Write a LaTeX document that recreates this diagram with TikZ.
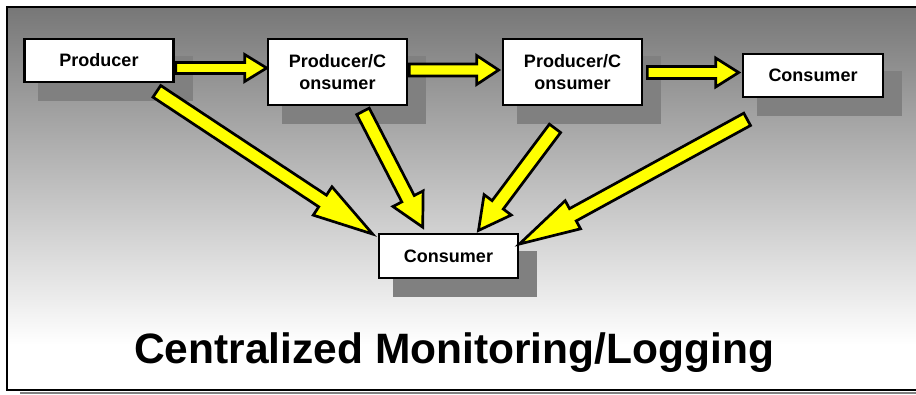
\documentclass[tikz,border=0pt]{standalone}
\usepackage{fontspec}
\setmainfont{Liberation Sans}
\usetikzlibrary{calc,backgrounds}

\definecolor{arrowyellow}{RGB}{255,255,0}
\definecolor{bgtop}{RGB}{119,119,119}
\definecolor{boxshade}{RGB}{128,128,128}

\tikzset{
  stage/.style={draw=black,fill=white,line width=2.7pt,inner sep=0pt,align=center,
    font=\bfseries\fontsize{18}{22.5}\selectfont},
  arrowbody/.style={draw=black,fill=arrowyellow,line width=2.7pt,line join=miter},
  boxshadow/.style={fill=boxshade,draw=none},
}

% block arrow: tail, tip, shaft half width, head half width, head length
\newcommand{\blockarrow}[5]{%
  \coordinate (ba-base) at ($(#2)!#5!(#1)$);
  \path[arrowbody] ($(#1)!#3!90:(#2)$) -- ($(ba-base)!#3!90:(#2)$)
    -- ($(ba-base)!#4!90:(#2)$) -- (#2) -- ($(ba-base)!#4!-90:(#2)$)
    -- ($(ba-base)!#3!-90:(#2)$) -- ($(#1)!#3!-90:(#2)$) -- cycle;}

\begin{document}
\begin{tikzpicture}[x=1pt,y=-1pt]
\useasboundingbox (0,0) rectangle (916,394);
\clip (0,0) rectangle (916,394);

% boxes
\node[stage,minimum width=149pt,minimum height=43pt] (prod) at (99,60.5) {Producer};
\node[stage,minimum width=139pt,minimum height=66pt] (pc1) at (337.5,72) {Producer/C\\onsumer};
\node[stage,minimum width=139pt,minimum height=66pt] (pc2) at (572.5,72) {Producer/C\\onsumer};
\node[stage,minimum width=140pt,minimum height=43pt] (cons) at (813,75.5) {Consumer};
\node[stage,minimum width=139pt,minimum height=44pt] (mon) at (448.5,256) {Consumer};

\node[inner sep=0pt,anchor=base west,font=\bfseries\fontsize{42.5}{50}\selectfont] (title) at (134,363) {Centralized Monitoring/Logging};

% background and shadows
\begin{pgfonlayer}{background}
\shade[top color=bgtop,bottom color=white] (7,7) rectangle (916,345);
\fill[white] (7,345) rectangle (916,390);
\foreach \nd in {prod,pc1,pc2,cons,mon}
  \fill[boxshadow] ($(\nd.north west)+(15,18)$) rectangle ($(\nd.south east)+(18,18)$);
\end{pgfonlayer}

% frame
\draw[boxshade,line width=2pt] (20,392.5) -- (920,392.5);
\draw[line width=2pt] (7,7) rectangle (920,390);

% chain arrows
\coordinate (a1s) at ($(prod.east)+(1,7.5)$);
\coordinate (a1e) at ($(pc1.west)+(0,-4)$);
\coordinate (a2s) at ($(pc1.east)+(1,-2)$);
\coordinate (a2e) at ($(pc2.west)+(-3,-2)$);
\coordinate (a3s) at ($(pc2.east)+(4,0.5)$);
\coordinate (a3e) at ($(cons.west)+(-3,-3)$);
\blockarrow{a1s}{a1e}{5.5pt}{13.5pt}{22pt}
\blockarrow{a2s}{a2e}{6pt}{14.5pt}{22pt}
\blockarrow{a3s}{a3e}{6pt}{14.5pt}{23pt}

% arrows to the central consumer
\coordinate (d1s) at ($(prod.south east)+(-18,8)$);
\coordinate (d1e) at ($(mon.north west)+(-5,1.4)$);
\coordinate (d2s) at ($(pc1.south)+(25.5,5)$);
\coordinate (d2e) at ($(mon.north)+(-25.8,-5.5)$);
\coordinate (d3s) at ($(pc2.south)+(-17.5,22)$);
\coordinate (d3e) at ($(mon.north)+(30,-2.2)$);
\coordinate (d4s) at ($(cons.south west)+(5.5,21)$);
\coordinate (d4e) at ($(mon.north east)+(0,11.4)$);
\blockarrow{d1s}{d1e}{7pt}{17pt}{60pt}
\blockarrow{d2s}{d2e}{7pt}{17pt}{32pt}
\blockarrow{d3s}{d3e}{7pt}{17pt}{32pt}
\blockarrow{d4s}{d4e}{7pt}{16pt}{61pt}
\end{tikzpicture}
\end{document}
